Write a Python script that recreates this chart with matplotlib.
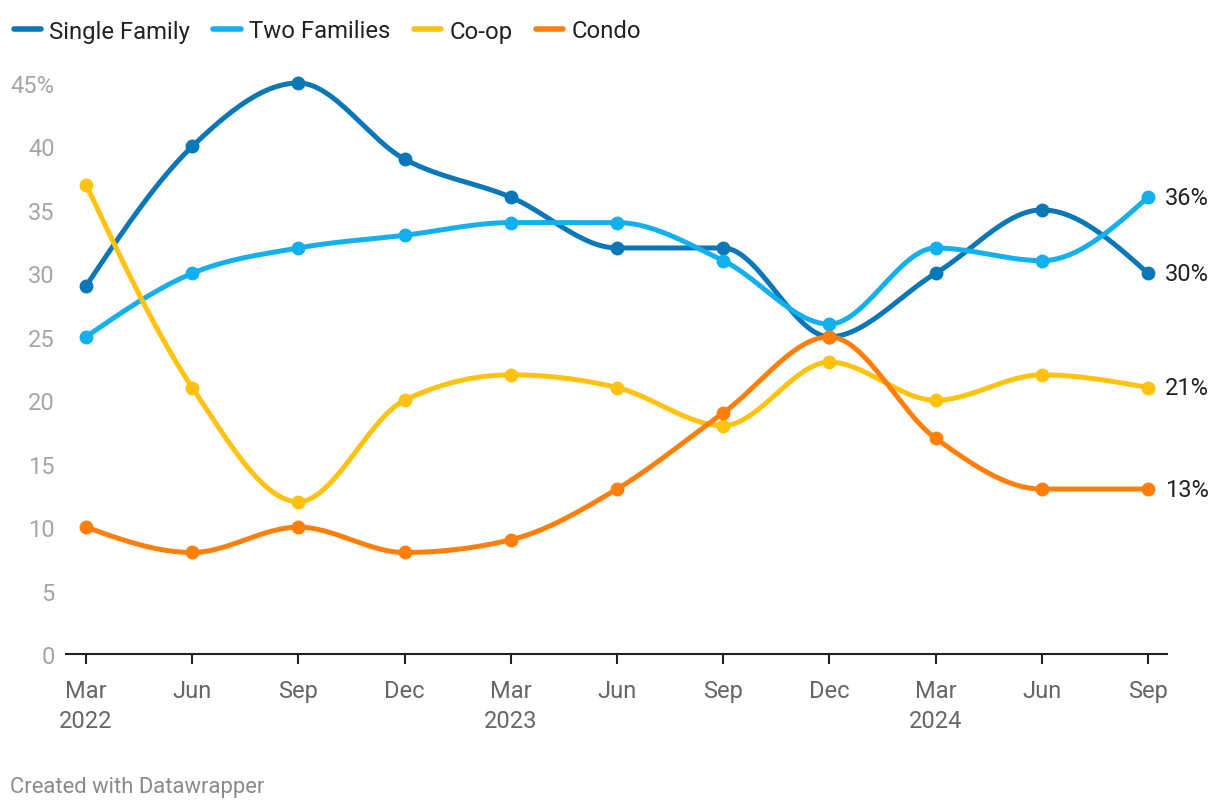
import numpy as np
import matplotlib
matplotlib.use('Agg')
import matplotlib.pyplot as plt
from matplotlib.lines import Line2D

plt.rcParams['font.family'] = ['Roboto', 'DejaVu Sans']

# Data (share of sales, %)
quarters = ['Mar\n2022', 'Jun', 'Sep', 'Dec', 'Mar\n2023', 'Jun', 'Sep', 'Dec',
            'Mar\n2024', 'Jun', 'Sep']
single_family = [29, 40, 45, 39, 36, 32, 32, 25, 30, 35, 30]
two_families = [25, 30, 32, 33, 34, 34, 31, 26, 32, 31, 36]
co_op = [37, 21, 12, 20, 22, 21, 18, 23, 20, 22, 21]
condo = [10, 8, 10, 8, 9, 13, 19, 25, 17, 13, 13]

series_names = ['Single Family', 'Two Families', 'Co-op', 'Condo']
series_values = [single_family, two_families, co_op, condo]
colors = ['#0a77b8', '#12b0ef', '#ffc20e', '#ff7f0a']
y_ticks = [0, 5, 10, 15, 20, 25, 30, 35, 40, 45]


# d3-style curveMonotoneX for the smooth lines
def monotone_curve(xs, ys, steps=30):
    xs = np.asarray(xs, float)
    ys = np.asarray(ys, float)
    n = len(xs)
    h = np.diff(xs)
    s = np.diff(ys) / h
    t = np.zeros(n)
    for i in range(1, n - 1):
        p = (s[i - 1] * h[i] + s[i] * h[i - 1]) / (h[i - 1] + h[i])
        t[i] = (np.sign(s[i - 1]) + np.sign(s[i])) * min(abs(s[i - 1]), abs(s[i]), 0.5 * abs(p))
    t[0] = (3 * s[0] - t[1]) / 2
    t[-1] = (3 * s[-1] - t[-2]) / 2
    out_x, out_y = [], []
    u = np.linspace(0, 1, steps)
    for i in range(n - 1):
        dx = h[i] / 3
        p0 = (xs[i], ys[i])
        p1 = (xs[i] + dx, ys[i] + dx * t[i])
        p2 = (xs[i + 1] - dx, ys[i + 1] - dx * t[i + 1])
        p3 = (xs[i + 1], ys[i + 1])
        bx = (1 - u) ** 3 * p0[0] + 3 * (1 - u) ** 2 * u * p1[0] + 3 * (1 - u) * u ** 2 * p2[0] + u ** 3 * p3[0]
        by = (1 - u) ** 3 * p0[1] + 3 * (1 - u) ** 2 * u * p1[1] + 3 * (1 - u) * u ** 2 * p2[1] + u ** 3 * p3[1]
        out_x.extend(bx)
        out_y.extend(by)
    return np.array(out_x), np.array(out_y)


fig = plt.figure(figsize=(12.2, 8.12), dpi=100)
ax = fig.add_axes([66 / 1220, 157 / 812, 1101 / 1220, 571 / 812])

x = np.arange(len(quarters))
for name, vals, col in zip(series_names, series_values, colors):
    cx, cy = monotone_curve(x, vals)
    ax.plot(cx, cy, color=col, lw=3.6, solid_capstyle='round', clip_on=False, zorder=3)
    ax.plot(x, vals, 'o', color=col, ms=9, clip_on=False, zorder=4)
    ax.annotate(f'{vals[-1]}%', (x[-1], vals[-1]), xytext=(12, 0), textcoords='offset points',
                va='center', ha='left', fontsize=17, color='#222222', annotation_clip=False)

ax.set_xlim(-20 / 106.2, 10 + 19 / 106.2)
ax.set_ylim(0, 45)
ax.set_xticks(x)
ax.set_xticklabels(quarters, fontsize=17, color='#666666', linespacing=1.4)
ax.set_yticks(y_ticks)
ax.set_yticklabels([f'{v}%' if v == 45 else str(v) for v in y_ticks], fontsize=17, color='#a6a6a6')

for side in ['top', 'right', 'left']:
    ax.spines[side].set_visible(False)
ax.spines['bottom'].set_color('#222222')
ax.spines['bottom'].set_linewidth(1.5)
ax.tick_params(axis='x', direction='out', length=7, width=1.5, color='#222222', pad=11)
ax.tick_params(axis='y', length=0, pad=8)

handles = [Line2D([0], [0], color=c, lw=4, solid_capstyle='round') for c in colors]
fig.legend(handles, series_names, loc='center left', bbox_to_anchor=(4 / 1220, 1 - 32 / 812),
           ncol=4, frameon=False, fontsize=17.2, handlelength=1.15, handletextpad=0.35,
           columnspacing=0.97, borderaxespad=0, labelcolor='#222222')

fig.text(10 / 1220, 1 - 788 / 812, 'Created with Datawrapper', fontsize=15.8, color='#8a8a8a',
         ha='left', va='center')

fig.savefig('out.png', dpi=100)
